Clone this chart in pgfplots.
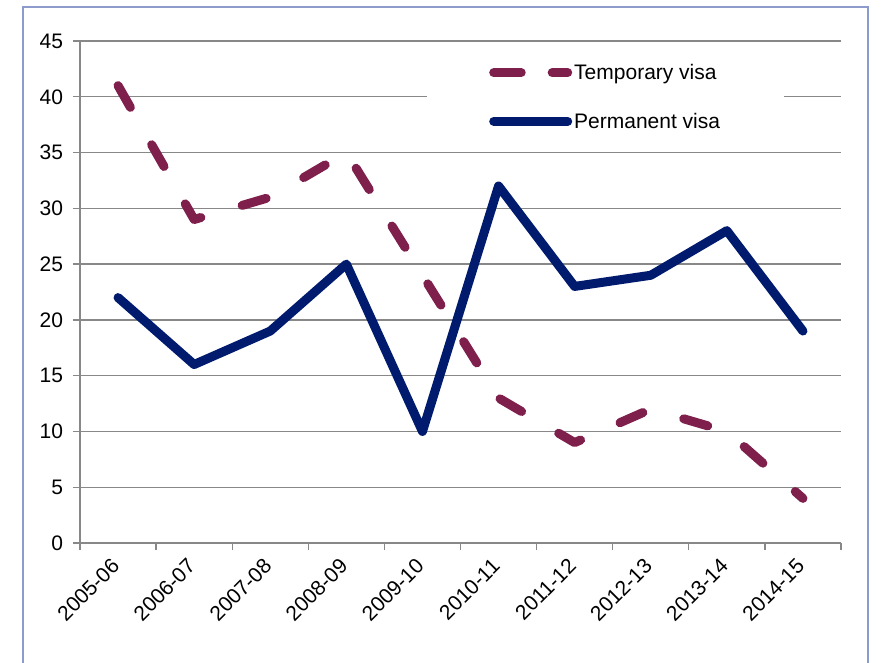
\documentclass[border=0pt]{standalone}
\usepackage{fontspec}
\setmainfont{Liberation Sans}
\usepackage{pgfplots}
\pgfplotsset{compat=1.18}
\definecolor{tempC}{RGB}{126,31,76}
\definecolor{permC}{RGB}{0,26,110}
\definecolor{gridC}{RGB}{136,136,136}
\definecolor{frameC}{RGB}{140,155,204}
\newcommand{\lblfont}{\fontsize{21}{25}\selectfont}
\pgfplotsset{
  templeg/.style={legend image code/.code={\path (0pt,0pt) -- (74pt,0pt);
      \draw[##1, dash pattern=on 23pt off 31pt] (4.5pt,0pt) -- (69.5pt,0pt);}},
  permleg/.style={legend image code/.code={\path (0pt,0pt) -- (74pt,0pt);
      \draw[##1] (4.5pt,0pt) -- (69.5pt,0pt);}},
}

\begin{document}
\begin{tikzpicture}
\begin{axis}[
    name=ax,
    scale only axis, width=761pt, height=502pt,
    xmin=0.5, xmax=10.5, ymin=0, ymax=45,
    axis x line*=bottom, axis y line*=left,
    axis line style={gridC, line width=1.3pt, -},
    xtick={1,...,10},
    xticklabels={2005-06,2006-07,2007-08,2008-09,2009-10,2010-11,2011-12,2012-13,2013-14,2014-15},
    ytick={0,5,...,45},
    minor xtick={0.5,1.5,...,10.5},
    minor ytick={0,5,...,45},
    major tick length=0pt, minor tick length=7pt,
    tick align=outside,
    tick style={gridC, line width=1.3pt},
    ymajorgrids, grid style={gridC, line width=1.3pt},
    tick label style={font=\lblfont, black},
    /pgf/number format/assume math mode=true,
    yticklabel style={xshift=-13.5pt},
    xticklabel style={yshift=-17pt, rotate=45, anchor=east},
    legend style={at={(0.456,0.966)}, anchor=north west, draw=none, fill=white,
                  inner xsep=62pt, inner ysep=4pt, font=\lblfont, row sep=28pt},
    legend cell align=left,
    clip=false,
]
\addplot[tempC, line width=9pt, line cap=round, line join=round,
         dash pattern=on 25pt off 43pt, templeg]
  coordinates {(1,41) (2,29) (3,31) (4,35) (5,24) (6,13) (7,9) (8,12) (9,10) (10,4)};
\addlegendentry{Temporary visa}
\addplot[permC, line width=9pt, line cap=round, line join=round, permleg]
  coordinates {(1,22) (2,16) (3,19) (4,25) (5,10) (6,32) (7,23) (8,24) (9,28) (10,19)};
\addlegendentry{Permanent visa}
\end{axis}
\begin{scope}[shift={(ax.south west)}]
  \path[use as bounding box] (-80pt,-119pt) rectangle (801pt,543pt);
  \draw[frameC, line width=2pt] (-57pt,-125pt) -- (-57pt,536pt) -- (788pt,536pt) -- (788pt,-125pt);
\end{scope}
\end{tikzpicture}
\end{document}
